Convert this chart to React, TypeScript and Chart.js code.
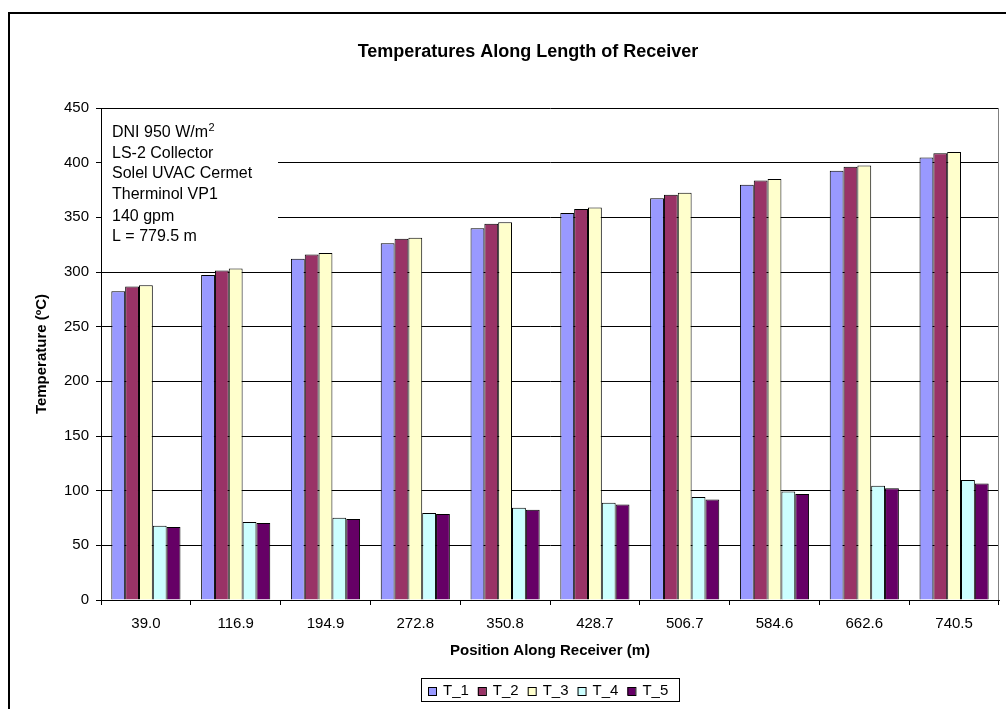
import React, { useEffect, useRef } from "react";
import { Chart, registerables } from "chart.js";

Chart.register(...registerables);

// ---- Data ----
const positions = ["39.0", "116.9", "194.9", "272.8", "350.8", "428.7", "506.7", "584.6", "662.6", "740.5"];
const t1Values = [282.4, 297.3, 312.2, 326.2, 340.0, 353.9, 367.4, 379.9, 392.7, 404.8];
const t2Values = [286.7, 301.3, 315.9, 330.5, 344.2, 357.6, 370.7, 383.8, 396.3, 408.5];
const t3Values = [287.9, 303.1, 317.4, 331.4, 345.4, 359.1, 372.5, 385.0, 397.5, 409.7];
const t4Values = [67.9, 71.3, 75.2, 79.5, 84.4, 88.9, 94.1, 99.3, 104.5, 109.7];
const t5Values = [66.7, 70.4, 74.0, 78.6, 82.5, 87.4, 92.0, 96.9, 102.1, 106.6];
const seriesNames = ["T_1", "T_2", "T_3", "T_4", "T_5"];
const seriesColors = ["#9999FF", "#993366", "#FFFFCC", "#CCFFFF", "#660066"];
const yMin = 0;
const yMax = 450;
const yStep = 50;
const chartTitle = "Temperatures Along Length of Receiver";
const xTitle = "Position Along Receiver (m)";
const yTitle = "Temperature (ºC)";
const noteLines = ["DNI 950 W/m", "LS-2 Collector", "Solel UVAC Cermet", "Therminol VP1", "140 gpm", "L = 779.5 m"];
const noteSuperscript = "2";

const FONT = '"Liberation Sans", Arial, sans-serif';

const decorPlugin = {
  id: "decor",
  beforeDatasetsDraw(chart: any) {
    const ctx = chart.ctx as CanvasRenderingContext2D;
    const area = chart.chartArea;
    ctx.save();
    // white text box behind note
    ctx.fillStyle = "#ffffff";
    ctx.fillRect(area.left + 1, area.top + 4, 176, 138);
    ctx.fillStyle = "#000000";
    ctx.textBaseline = "alphabetic";
    ctx.textAlign = "left";
    const x0 = area.left + 11;
    const baselines = [137, 157.5, 178, 199, 220.5, 240.5];
    noteLines.forEach((line, i) => {
      ctx.font = `16px ${FONT}`;
      ctx.fillText(line, x0, baselines[i]);
      if (i === 0) {
        const w = ctx.measureText(line).width;
        ctx.font = `11px ${FONT}`;
        ctx.fillText(noteSuperscript, x0 + w + 0.5, baselines[i] - 6.5);
      }
    });
    ctx.restore();
  },
  afterDraw(chart: any) {
    const ctx = chart.ctx as CanvasRenderingContext2D;
    const area = chart.chartArea;
    ctx.save();
    // outer chart border (left & top visible)
    ctx.fillStyle = "#000000";
    ctx.fillRect(8, 12, 2, 720);
    ctx.fillRect(8, 12, 1000, 2);
    // plot-area right border
    ctx.strokeStyle = "#808080";
    ctx.lineWidth = 1;
    ctx.beginPath();
    ctx.moveTo(area.right - 0.5, area.top);
    ctx.lineTo(area.right - 0.5, area.bottom);
    ctx.stroke();
    // title
    ctx.fillStyle = "#000000";
    ctx.font = `bold 18px ${FONT}`;
    ctx.textAlign = "center";
    ctx.textBaseline = "middle";
    ctx.fillText(chartTitle, 528, 52);
    // legend
    ctx.font = `15px ${FONT}`;
    const sq = 8;
    const gapSqText = 7;
    const itemSpacing = 9;
    const padL = 7;
    const padR = 11;
    const widths = seriesNames.map((n) => ctx.measureText(n).width);
    let total = padL + padR;
    widths.forEach((w, i) => {
      total += sq + gapSqText + w + (i < widths.length - 1 ? itemSpacing : 0);
    });
    const cx = (area.left + area.right) / 2;
    const boxLeft = Math.round(cx - total / 2);
    const boxTop = 678;
    const boxH = 23;
    ctx.fillStyle = "#ffffff";
    ctx.fillRect(boxLeft, boxTop, total, boxH);
    ctx.strokeStyle = "#000000";
    ctx.lineWidth = 1;
    ctx.strokeRect(boxLeft + 0.5, boxTop + 0.5, Math.round(total), boxH);
    let x = boxLeft + padL;
    const cy = boxTop + boxH / 2 + 1;
    ctx.textAlign = "left";
    ctx.textBaseline = "middle";
    seriesNames.forEach((n, i) => {
      ctx.fillStyle = seriesColors[i];
      ctx.fillRect(x, Math.round(cy - sq / 2), sq, sq);
      ctx.strokeStyle = "#000000";
      ctx.strokeRect(x + 0.5, Math.round(cy - sq / 2) + 0.5, sq, sq);
      ctx.fillStyle = "#000000";
      ctx.fillText(n, x + sq + gapSqText, cy);
      x += sq + gapSqText + widths[i] + itemSpacing;
    });
    ctx.restore();
  },
};

export default function App() {
  const canvasRef = useRef<HTMLCanvasElement | null>(null);

  useEffect(() => {
    if (!canvasRef.current) return;
    const seriesValues = [t1Values, t2Values, t3Values, t4Values, t5Values];
    const chart = new Chart(canvasRef.current, {
      type: "bar",
      data: {
        labels: positions,
        datasets: seriesNames.map((name, i) => ({
          label: name,
          data: seriesValues[i],
          backgroundColor: seriesColors[i],
          borderColor: "#000000",
          borderWidth: 1,
          barPercentage: 1,
          categoryPercentage: 0.77,
        })),
      },
      options: {
        animation: false,
        responsive: false,
        events: [],
        layout: { padding: { top: 108, right: 7, bottom: 49, left: 33 } },
        plugins: {
          legend: { display: false },
          title: { display: false },
          tooltip: { enabled: false },
        },
        scales: {
          x: {
            type: "category",
            offset: true,
            grid: {
              offset: true,
              drawOnChartArea: false,
              drawTicks: true,
              tickLength: 5,
              color: "#000000",
            },
            border: { display: true, color: "#000000", width: 1 },
            ticks: {
              color: "#000000",
              font: { family: FONT, size: 15 },
              padding: 10,
              maxRotation: 0,
              autoSkip: false,
            },
            title: {
              display: true,
              text: xTitle,
              color: "#000000",
              font: { family: FONT, size: 15, weight: "bold" },
              padding: { top: 0, bottom: 0 },
            },
            afterFit: (scale: any) => {
              scale.height = 60;
            },
          },
          y: {
            min: yMin,
            max: yMax,
            ticks: {
              stepSize: yStep,
              color: "#000000",
              font: { family: FONT, size: 15 },
              padding: 7,
            },
            grid: {
              color: "#000000",
              lineWidth: 1,
              drawTicks: true,
              tickLength: 5,
            },
            border: { display: true, color: "#000000", width: 1 },
            title: {
              display: true,
              text: yTitle,
              color: "#000000",
              font: { family: FONT, size: 15, weight: "bold" },
              padding: { top: 0, bottom: 0 },
            },
            afterFit: (scale: any) => {
              scale.width = 68;
            },
          },
        },
      },
      plugins: [decorPlugin],
    });
    return () => chart.destroy();
  }, []);

  return (
    <div
      style={{
        position: "absolute",
        left: 0,
        top: 0,
        width: 1006,
        height: 709,
        overflow: "hidden",
        background: "#ffffff",
      }}
    >
      <canvas ref={canvasRef} width={1006} height={709} style={{ width: 1006, height: 709, display: "block" }} />
    </div>
  );
}
